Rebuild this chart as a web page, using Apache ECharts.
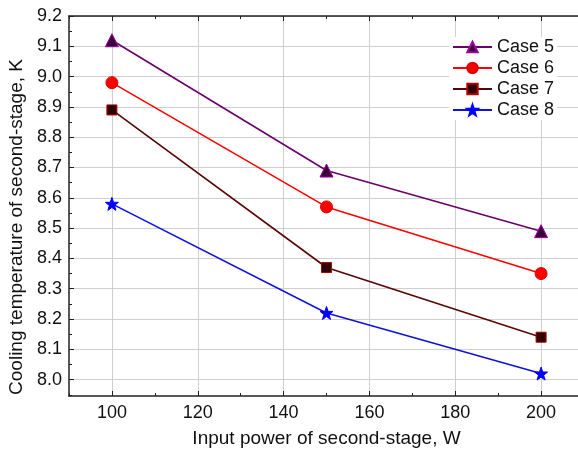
<!DOCTYPE html>
<html>
<head>
<meta charset="utf-8">
<script src="https://cdn.jsdelivr.net/npm/echarts@6/dist/echarts.min.js"></script>
<style>html,body{margin:0;padding:0;background:#fff;overflow:hidden}#c{width:578px;height:454px}</style>
</head>
<body>
<div id="c"></div>
<script>
const powers = [100, 150, 200];
const case5 = [9.12, 8.69, 8.49];
const case6 = [8.98, 8.57, 8.35];
const case7 = [8.89, 8.37, 8.14];
const case8 = [8.58, 8.22, 8.02];
const seriesNames = ['Case 5', 'Case 6', 'Case 7', 'Case 8'];
const xMajorTicks = [100, 120, 140, 160, 180, 200];
const xMinorTicks = [90, 110, 130, 150, 170, 190, 210];
const yMajorTicks = [8.0, 8.1, 8.2, 8.3, 8.4, 8.5, 8.6, 8.7, 8.8, 8.9, 9.0, 9.1, 9.2];
const yMinorTicks = [7.95, 8.05, 8.15, 8.25, 8.35, 8.45, 8.55, 8.65, 8.75, 8.85, 8.95, 9.05, 9.15];

const X_MIN = 90, X_MAX = 210, Y_MIN = 7.946, Y_MAX = 9.2;
const FONT = 'Liberation Sans, Arial, sans-serif';
const frame = { show: true, lineStyle: { color: '#222', width: 1.5 } };

function xAxis(pos, ticks, len, main) {
  return {
    type: 'value', position: pos, min: X_MIN, max: X_MAX,
    axisLine: main ? frame : { show: false },
    axisTick: { show: true, inside: true, length: len, customValues: ticks, lineStyle: { color: '#222', width: 1 } },
    axisLabel: main && pos === 'bottom' ? { show: true, customValues: ticks, fontSize: 18, color: '#111', fontFamily: FONT, margin: 8 } : { show: false },
    splitLine: main && pos === 'bottom' ? { show: true, lineStyle: { color: '#cfcfcf', width: 1 } } : { show: false },
    name: main && pos === 'bottom' ? 'Input power of second-stage, W' : '',
    nameLocation: 'middle', nameGap: 33,
    nameTextStyle: { fontSize: 19, color: '#111', fontFamily: FONT }
  };
}
function yAxis(pos, ticks, len, main) {
  return {
    type: 'value', position: pos, min: Y_MIN, max: Y_MAX,
    axisLine: main ? frame : { show: false },
    axisTick: { show: true, inside: true, length: len, customValues: ticks, lineStyle: { color: '#222', width: 1 } },
    axisLabel: main && pos === 'left' ? { show: true, customValues: ticks, fontSize: 18, color: '#111', fontFamily: FONT, margin: 7, formatter: v => v.toFixed(1) } : { show: false },
    splitLine: main && pos === 'left' ? { show: true, lineStyle: { color: '#cfcfcf', width: 1 } } : { show: false },
    name: main && pos === 'left' ? 'Cooling temperature of second-stage, K' : '',
    nameLocation: 'middle', nameGap: 41, nameRotate: 90,
    nameTextStyle: { fontSize: 19, color: '#111', fontFamily: FONT, padding: [0, 42, 0, 0] }
  };
}

const styles = [
  { line: '#6a006a', fill: '#3a003a', border: '#a000a0', symbol: 'triangle', size: 13 },
  { line: '#ff0000', fill: '#ff0000', border: '#e00000', symbol: 'circle', size: 12 },
  { line: '#5a0505', fill: '#2a0000', border: '#b00000', symbol: 'rect', size: 10 },
  { line: '#1010e0', fill: '#0000ff', border: '#0000ff', symbol: 'path://M0,-10 L2.35,-3.24 L9.51,-3.09 L3.8,1.24 L5.88,8.09 L0,4 L-5.88,8.09 L-3.8,1.24 L-9.51,-3.09 L-2.35,-3.24 Z', size: 13 }
];
const datasets = [case5, case6, case7, case8];

const chart = echarts.init(document.getElementById('c'), null, { renderer: 'canvas' });
chart.setOption({
  animation: false,
  backgroundColor: '#fff',
  grid: { left: 69, top: 16, right: -6, bottom: 58, containLabel: false, outerBoundsMode: 'none' },
  xAxis: [
    xAxis('bottom', xMajorTicks, 5, true),
    xAxis('bottom', xMinorTicks, 3, false),
    xAxis('top', xMajorTicks, 5, true),
    xAxis('top', xMinorTicks, 3, false)
  ],
  yAxis: [
    yAxis('left', yMajorTicks, 5, true),
    yAxis('left', yMinorTicks, 3, false),
    yAxis('right', yMajorTicks, 5, true),
    yAxis('right', yMinorTicks, 3, false)
  ],
  legend: {
    orient: 'vertical', left: 449, top: 37,
    itemGap: 3, itemWidth: 39, itemHeight: 13,
    backgroundColor: '#fff', padding: [1, 3, 1, 3],
    textStyle: { fontSize: 18, color: '#111', fontFamily: FONT },
    data: seriesNames
  },
  series: seriesNames.map((name, i) => ({
    name, type: 'line', xAxisIndex: 0, yAxisIndex: 0,
    data: powers.map((p, j) => [p, datasets[i][j]]),
    symbol: styles[i].symbol, symbolSize: styles[i].size,
    showSymbol: true,
    lineStyle: { color: styles[i].line, width: 1.6 },
    itemStyle: { color: styles[i].fill, borderColor: styles[i].border, borderWidth: 1 },
    z: 3 + i
  }))
});
</script>
</body>
</html>
